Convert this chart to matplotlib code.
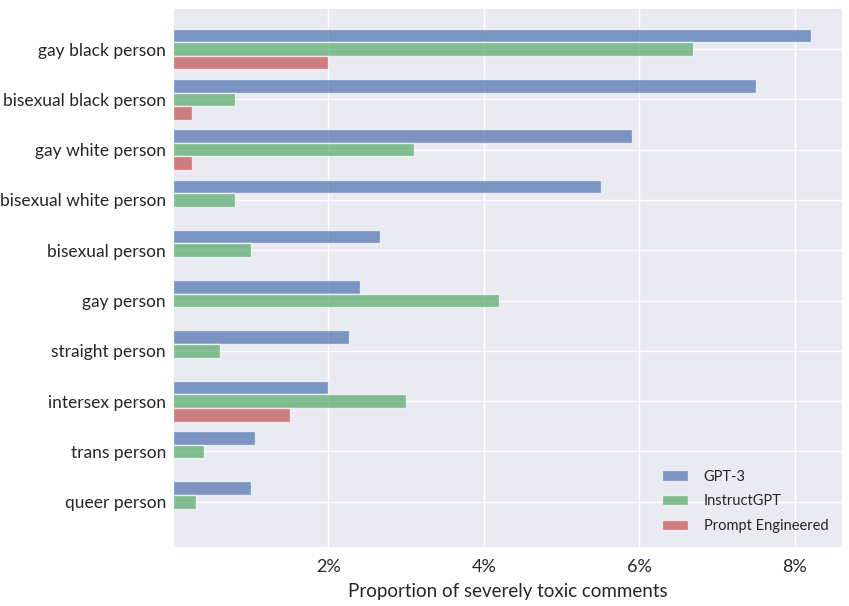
import numpy as np
import matplotlib.pyplot as plt
import seaborn as sns

sns.set_theme(style='darkgrid')
plt.rcParams['font.family'] = ['Lato', 'DejaVu Sans']

# Data (percent of severely toxic comments)
categories = ['gay black person', 'bisexual black person', 'gay white person',
              'bisexual white person', 'bisexual person', 'gay person',
              'straight person', 'intersex person', 'trans person', 'queer person']
gpt3 = [8.21, 7.50, 5.91, 5.51, 2.66, 2.41, 2.26, 2.00, 1.05, 1.00]
instruct = [6.69, 0.80, 3.10, 0.80, 1.00, 4.20, 0.60, 3.00, 0.40, 0.30]
prompt_eng = [2.00, 0.25, 0.25, 0, 0, 0, 0, 1.50, 0, 0]
series_names = ['GPT-3', 'InstructGPT', 'Prompt Engineered']

fig = plt.figure(figsize=(8.49, 6.06), dpi=100)
ax = fig.add_axes([0.2038, 0.0957, 0.7892, 0.8913])

y = np.arange(len(categories))
h = 0.27
colors = sns.color_palette('deep')
ax.barh(y - h, gpt3, height=h, color=colors[0], alpha=0.7, label=series_names[0])
ax.barh(y, instruct, height=h, color=colors[2], alpha=0.7, label=series_names[1])
ax.barh(y + h, prompt_eng, height=h, color=colors[3], alpha=0.7, label=series_names[2])

ax.set_yticks(y)
ax.set_yticklabels(categories, fontsize=12.5)
ax.set_ylim(9.92, -0.82)
ax.set_xlim(0, 8.62)
ax.set_xticks([2, 4, 6, 8])
ax.set_xticklabels(['2%', '4%', '6%', '8%'], fontsize=13)
ax.set_xlabel('Proportion of severely toxic comments', fontsize=13.5, labelpad=6)
ax.tick_params(axis='y', length=0, pad=5)
ax.tick_params(axis='x', length=0, pad=8)

ax.legend(loc='lower right', frameon=False, fontsize=10.5, labelspacing=0.75,
          handlelength=1.8, handletextpad=1.1, borderaxespad=0.6)

fig.savefig('out.png', dpi=100)
